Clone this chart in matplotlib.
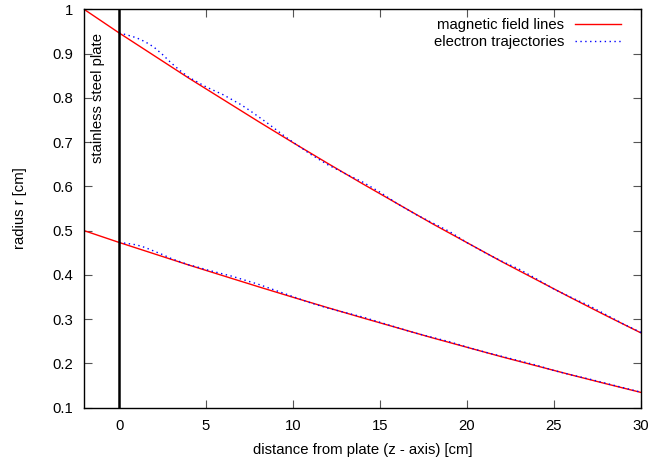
import matplotlib
matplotlib.use("Agg")
import matplotlib.pyplot as plt

plt.rcParams['font.family'] = ['Liberation Sans', 'DejaVu Sans']
plt.rcParams['font.size'] = 10.7

# magnetic field lines (z in cm, r in cm)
field_z = [-2, 0, 2, 4, 6, 8, 10, 12, 14, 16, 18, 20, 22, 24, 26, 28, 30]
field_outer = [1.0, 0.947, 0.896, 0.845, 0.796, 0.747, 0.699, 0.652, 0.606,
               0.561, 0.516, 0.473, 0.430, 0.389, 0.348, 0.308, 0.269]
field_inner = [0.5, 0.4735, 0.448, 0.4225, 0.398, 0.3735, 0.3495, 0.326, 0.303,
               0.2805, 0.258, 0.2365, 0.215, 0.1945, 0.174, 0.154, 0.1345]

# electron trajectories
traj_z = [0, 0.5, 1, 1.5, 2, 2.5, 3, 3.5, 4, 4.5, 5, 5.5, 6, 6.5, 7, 7.5, 8,
          8.5, 9, 9.5, 10, 11, 12, 13, 14, 15, 16, 17, 18, 19, 20, 21, 22,
          23, 24, 25, 26, 27, 28, 29, 30]
traj_outer = [0.947, 0.942, 0.936, 0.927, 0.915, 0.898, 0.879, 0.862, 0.847,
              0.836, 0.825, 0.816, 0.807, 0.796, 0.785, 0.772, 0.758, 0.744,
              0.729, 0.714, 0.700, 0.673, 0.649, 0.629, 0.610, 0.587, 0.561,
              0.538, 0.518, 0.498, 0.473, 0.451, 0.431, 0.413, 0.391, 0.368,
              0.349, 0.331, 0.310, 0.289, 0.270]
traj_inner = [0.4735, 0.471, 0.468, 0.462, 0.454, 0.446, 0.437, 0.430, 0.423,
              0.418, 0.412, 0.407, 0.402, 0.397, 0.391, 0.385, 0.379, 0.372,
              0.365, 0.358, 0.351, 0.337, 0.325, 0.315, 0.305, 0.293, 0.281,
              0.269, 0.259, 0.249, 0.237, 0.226, 0.216, 0.206, 0.196, 0.184,
              0.174, 0.165, 0.155, 0.145, 0.135]

x_ticks = [0, 5, 10, 15, 20, 25, 30]
y_ticks = [0.1, 0.2, 0.3, 0.4, 0.5, 0.6, 0.7, 0.8, 0.9, 1]
y_labels = ['0.1', '0.2', '0.3', '0.4', '0.5', '0.6', '0.7', '0.8', '0.9', '1']

fig = plt.figure(figsize=(6.51, 4.67), dpi=100)
ax = fig.add_axes([0.1295, 0.127, 0.8551, 0.8527])

ax.plot(field_z, field_outer, color='red', lw=1, label='magnetic field lines')
ax.plot(field_z, field_inner, color='red', lw=1)
ax.plot(traj_z, traj_outer, color='blue', lw=1, linestyle=(0, (1, 2.5)),
        label='electron trajectories')
ax.plot(traj_z, traj_inner, color='blue', lw=1, linestyle=(0, (1, 2.5)))

# plate
ax.axvline(0, color='black', lw=1.8)
ax.text(-1.2, 0.80, 'stainless steel plate', rotation=90,
        ha='center', va='center')

ax.set_xlim(-2, 30)
ax.set_ylim(0.1, 1)
ax.set_xticks(x_ticks)
ax.set_yticks(y_ticks)
ax.set_yticklabels(y_labels)
ax.tick_params(direction='in', length=6, width=0.8, color='#555555',
               top=True, right=True, pad=8)
for s in ax.spines.values():
    s.set_linewidth(1.0)

ax.set_xlabel('distance from plate (z - axis) [cm]', labelpad=7)
ax.set_ylabel('radius r [cm]', labelpad=18)

ax.legend(loc='upper right', bbox_to_anchor=(0.975, 0.994), frameon=False,
          markerfirst=False, handlelength=3.1, handletextpad=0.75,
          labelspacing=0.22, borderaxespad=0, borderpad=0.4)

fig.savefig('out.png', dpi=100)
